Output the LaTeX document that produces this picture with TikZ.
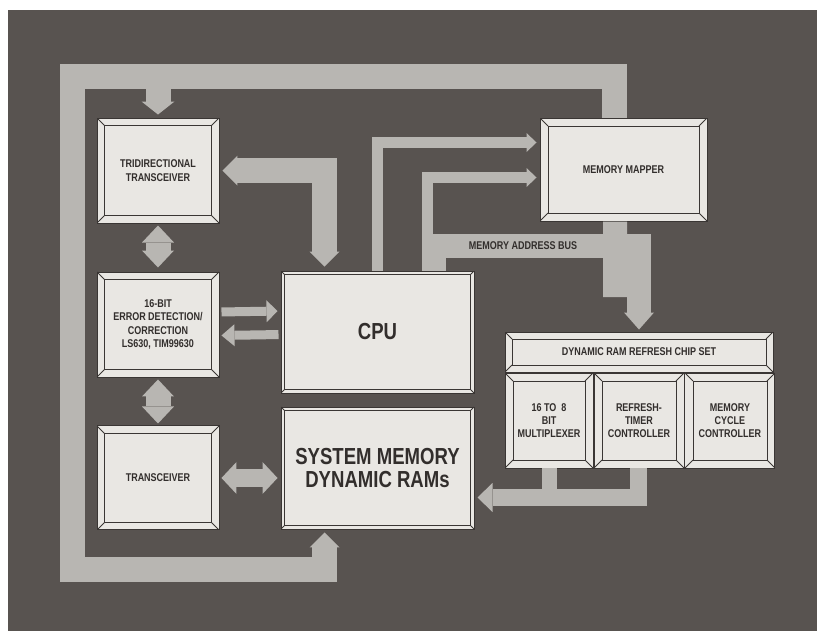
\documentclass[tikz,border=0pt]{standalone}
\usepackage{fontspec}
\newfontfamily\narrowsans{Liberation Sans}[FakeStretch=0.8]
\usetikzlibrary{arrows.meta, positioning}
\definecolor{panelgray}{RGB}{88,83,80}
\definecolor{busgray}{RGB}{184,182,178}
\definecolor{boxwhite}{RGB}{233,231,227}
\definecolor{edgegray}{RGB}{58,54,52}
\definecolor{inkgray}{RGB}{50,46,44}

\begin{document}
\begin{tikzpicture}[x=0.25mm, y=-0.25mm,
    bevelbox/.style={draw=edgegray, fill=boxwhite, line width=0.7pt,
                     rectangle, inner sep=0pt, align=center, text=inkgray,
                     font=\narrowsans\bfseries\fontsize{8}{9.5}\selectfont,
                     path picture={
                       \draw[edgegray, line width=0.6pt]
                         ([shift={(#1,-#1)}]path picture bounding box.north west)
                         rectangle ([shift={(-#1,#1)}]path picture bounding box.south east);
                       \draw[edgegray, line width=0.6pt]
                         (path picture bounding box.north west) -- ++(#1,-#1)
                         (path picture bounding box.north east) -- ++(-#1,-#1)
                         (path picture bounding box.south west) -- ++(#1,#1)
                         (path picture bounding box.south east) -- ++(-#1,#1);
                     }},
    bevelbox/.default=1.9mm,
    bigbox/.style={bevelbox=0.8mm,
                   font=\narrowsans\bfseries\fontsize{16.5}{16}\selectfont},
    bus/.style={draw=busgray, line width=6.25mm, line join=miter, line cap=butt},
    buslabel/.style={text=inkgray, inner sep=1pt,
                     font=\narrowsans\bfseries\fontsize{8}{9.5}\selectfont},
  ]
  \fill[white] (0,0) rectangle (817,631);
  \fill[panelgray] (8,10) rectangle (817,631);

  % left column
  \node[bevelbox, minimum width=30.5mm, minimum height=26.25mm] (tri) at (158,170.5)
    {TRIDIRECTIONAL\\TRANSCEIVER};
  \node[bevelbox, minimum width=30.5mm, minimum height=26.25mm, below=12mm of tri] (edc)
    {16-BIT\\ERROR DETECTION/\\CORRECTION\\LS630, TIM99630};
  \node[bevelbox, minimum width=30.5mm, minimum height=26mm, below=12mm of edc] (trans)
    {TRANSCEIVER};

  % middle
  \node[bigbox, minimum width=48.25mm, minimum height=30.5mm] (cpu) at (377.5,332) {CPU};
  \node[bigbox, minimum width=48.25mm, minimum height=30.5mm, below=3.25mm of cpu] (sysmem)
    {SYSTEM MEMORY\\DYNAMIC RAMs};

  % right
  \node[bevelbox=2mm, minimum width=41.75mm, minimum height=25.75mm] (mapper) at (623.5,169.5)
    {MEMORY MAPPER};
  \node[bevelbox=1.75mm, minimum width=67mm, minimum height=10mm] (chipset) at (639,352)
    {DYNAMIC RAM REFRESH CHIP SET};
  \node[bevelbox=2mm, minimum width=22mm, minimum height=23.75mm, anchor=north west] (mux)
    at (chipset.south west) {16 TO\ \ 8\\BIT\\MULTIPLEXER};
  \node[bevelbox=2mm, minimum width=22.5mm, minimum height=23.75mm, anchor=north west] (refresh)
    at (mux.north east) {REFRESH-\\TIMER\\CONTROLLER};
  \node[bevelbox=2mm, minimum width=22.5mm, minimum height=23.75mm, anchor=north west] (cycle)
    at (refresh.north east) {MEMORY\\CYCLE\\CONTROLLER};

  \coordinate (nwbend) at (72,76.5);
  \coordinate (swbend) at (72,569);
  \coordinate (abus) at (523,245.5);
  \coordinate (merge) at (615,297);
  \coordinate (ramin) at ([yshift=-7.375mm]sysmem.east);

  % outer data bus
  \draw[bus, -{Triangle[width=7.5mm, length=3.75mm, line width=0pt 0 0]}, shorten >=0.75mm]
    ([xshift=-2.25mm]mapper.north) |- (nwbend) -- (swbend) -| ([xshift=-13.25mm]sysmem.south);
  \draw[bus, -{Triangle[width=8.25mm, length=3.25mm, line width=0pt 0 0]}, shorten >=0.75mm]
    (tri.north |- nwbend) -- (tri.north);
  \draw[bus, {Triangle[width=7.5mm, length=3.75mm, line width=0pt 0 0]}-{Triangle[width=7.5mm, length=3.75mm, line width=0pt 0 0]},
        shorten >=0.75mm, shorten <=1mm]
    ([xshift=-13.25mm]cpu.north) |- (tri.east);

  % left column links
  \draw[bus, {Triangle[width=8mm, length=4.25mm, line width=0pt 0 0]}-{Triangle[width=8mm, length=4.25mm, line width=0pt 0 0]},
        shorten >=1mm, shorten <=0.5mm]
    (tri.south) -- (edc.north);
  \draw[bus, {Triangle[width=8mm, length=4.25mm, line width=0pt 0 0]}-{Triangle[width=8mm, length=4.25mm, line width=0pt 0 0]},
        shorten >=0.5mm, shorten <=0.5mm]
    (edc.south) -- (trans.north);
  \draw[bus, line width=4.5mm, {Triangle[width=8mm, length=3.75mm, line width=0pt 0 0]}-{Triangle[width=8mm, length=3.75mm, line width=0pt 0 0]},
        shorten >=0.75mm, shorten <=0.5mm]
    (trans.east) -- (trans.east -| sysmem.west);
  \draw[bus, line width=2.25mm, -{Triangle[width=5.5mm, length=2.75mm, line width=0pt 0 0]}, shorten >=0.75mm, shorten <=0.5mm]
    ([yshift=3.125mm]edc.east) -- ([yshift=5.25mm]cpu.west);
  \draw[bus, line width=2.25mm, -{Triangle[width=5.5mm, length=3.25mm, line width=0pt 0 0]}, shorten >=0.5mm, shorten <=0.5mm]
    ([yshift=-0.625mm]cpu.west) -- ([yshift=-2.75mm]edc.east);

  % cpu to memory mapper
  \draw[bus, line width=2.75mm, -{Triangle[width=4.75mm, length=2.5mm, line width=0pt 0 0]}, shorten >=0.75mm]
    (cpu.north) |- ([yshift=6.75mm]mapper.west);
  \draw[bus, line width=2.75mm, -{Triangle[width=4.75mm, length=2.5mm, line width=0pt 0 0]}, shorten >=0.75mm]
    ([xshift=12.5mm]cpu.north) |- ([yshift=-2mm]mapper.west);

  % memory address bus
  \draw[bus, line width=6mm] ([xshift=-2.125mm]mapper.south) -- (merge);
  \draw[bus, line width=6mm, -{Triangle[width=7.5mm, length=4.25mm, line width=0pt 0 0]}, shorten >=0.5mm]
    ([xshift=14.125mm]cpu.north) |- (abus) -| (chipset.north);
  \node[buslabel] (busname) at (abus) {MEMORY ADDRESS BUS};

  % refresh chip set to system memory
  \draw[bus, line width=3.75mm] (mux.south) -- (ramin -| mux.south);
  \draw[bus, line width=4.25mm, -{Triangle[width=7.25mm, length=3.75mm, line width=0pt 0 0]}, shorten >=0.75mm]
    (refresh.south) |- (ramin);
\end{tikzpicture}
\end{document}
